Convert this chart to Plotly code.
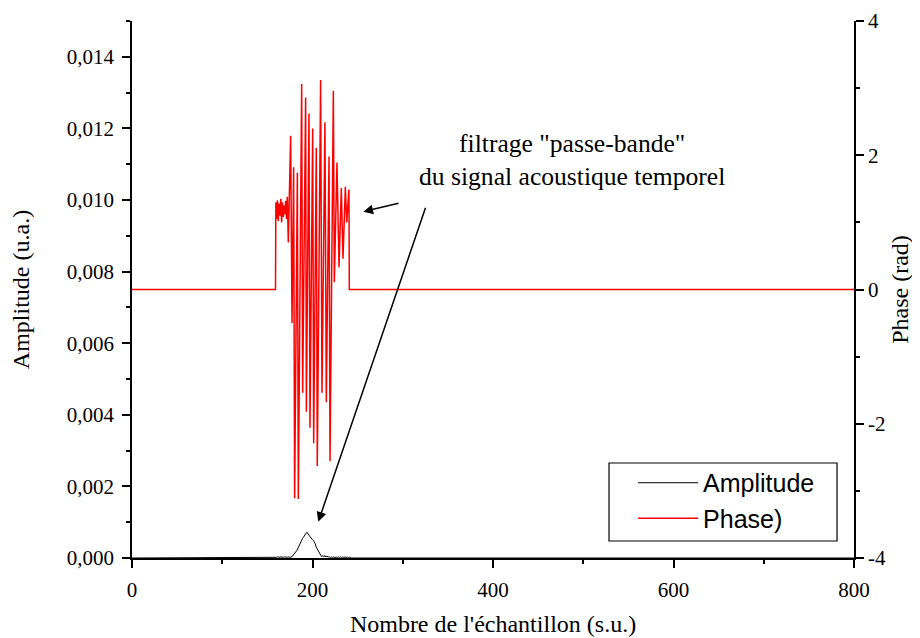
import numpy as np
import plotly.graph_objects as go

# ---------------- data ----------------
# Phase (rad): read points (sample index, value)
phase_x = [0, 159.0, 159.4, 160.3, 161.2, 162.1, 163.0, 164.0, 164.9, 165.8, 166.7,
           167.6, 168.5, 169.4, 170.3, 171.2, 172.1, 173.2,
           175.8, 177.3, 179.1, 180.2, 183.2, 184.3, 188.0, 189.1, 192.4, 193.2,
           196.1, 197.2, 200.2, 201.3, 204.2, 205.3, 209.0, 210.5, 213.8, 215.3,
           218.3, 219.4, 223.1, 224.2, 227.1, 229.4, 231.9, 233.8, 236.4, 237.9,
           240.4, 240.8, 800]
phase_y = [0, 0, 1.30, 1.05, 1.33, 1.02, 1.28, 1.10, 1.35, 1.00, 1.30,
           1.08, 1.25, 1.12, 1.32, 1.05, 1.38, 0.70,
           2.29, -0.50, 1.82, -3.11, 1.74, -3.12, 3.06, -1.54, 2.86, -1.82,
           2.62, -2.06, 2.40, -2.29, 2.11, -2.63, 3.12, -1.54, 2.49, -1.68,
           1.98, -2.56, 2.96, 0.11, 1.89, 0.33, 1.51, 0.46, 1.53, 1.00,
           1.49, 0.0, 0]

# Amplitude (u.a.): values for samples 160 .. 241, zero elsewhere (0..800)
amp_start = 160
amp_values = [
    0.00002, 0.00003, 0.00002, 0.00003, 0.00002, 0.00003, 0.00002, 0.00003,
    0.00002, 0.00003, 0.00002, 0.00003, 0.00002, 0.00003, 0.00002, 0.00003,
    0.00002,                                   # 160-176
    0.00003, 0.00006, 0.00009, 0.00013, 0.00016, 0.00018, 0.00022, 0.00028,
    0.00034, 0.00040, 0.00045, 0.00050, 0.00055, 0.00058, 0.00063, 0.00066,
    0.00070, 0.00071, 0.00069, 0.00064, 0.00060, 0.00056, 0.00054, 0.00051,
    0.00049, 0.00045, 0.00040, 0.00031, 0.00026, 0.00021, 0.00016, 0.00012,
    0.00007, 0.00004,                          # 177-210
    0.00006, 0.00004, 0.00007, 0.00003, 0.00006, 0.00003, 0.00005, 0.00002,
    0.00003, 0.00001, 0.00003, 0.00001, 0.00003, 0.00001, 0.00003, 0.00001,
    0.00003, 0.00001, 0.00003, 0.00001, 0.00003, 0.00001, 0.00003, 0.00001,
    0.00003, 0.00001, 0.00003, 0.00001, 0.00003, 0.00001, 0.00002,  # 211-241
]
n_samples = 801

x_tickvals = [0, 200, 400, 600, 800]
y_tickvals = [0, 0.002, 0.004, 0.006, 0.008, 0.010, 0.012, 0.014]
y_ticktext = ["0,000", "0,002", "0,004", "0,006", "0,008", "0,010", "0,012", "0,014"]
y2_tickvals = [-4, -2, 0, 2, 4]
y2_ticktext = ["-4", "-2", "0", "2", "4"]

# ---------------- build ----------------
amp_x = np.arange(n_samples)
amp_y = np.zeros(n_samples)
amp_y[amp_start:amp_start + len(amp_values)] = amp_values

SERIF = "Liberation Serif"
SANS = "Liberation Sans"

fig = go.Figure()
fig.add_trace(go.Scatter(x=amp_x, y=amp_y, mode="lines", name="Amplitude",
                         line=dict(color="black", width=1), yaxis="y"))
fig.add_trace(go.Scatter(x=phase_x, y=phase_y, mode="lines", name="Phase)",
                         line=dict(color="#ff0000", width=1.5), yaxis="y2"))

axis_common = dict(showline=True, linecolor="black", linewidth=1.5,
                   showgrid=False, zeroline=False, ticks="outside",
                   tickcolor="black", tickwidth=1.5, ticklen=8, automargin=False,
                   tickfont=dict(family=SERIF, size=21, color="black"))

fig.update_layout(
    width=912, height=630,
    margin=dict(l=124, r=66, t=13, b=80),
    paper_bgcolor="white", plot_bgcolor="white",
    showlegend=True,
    legend=dict(x=0.694, y=0.1825, xanchor="left", yanchor="top",
                borderwidth=0, bgcolor="rgba(0,0,0,0)",
                font=dict(family=SANS, size=25, color="black"),
                itemwidth=60, tracegroupgap=0),
    xaxis=dict(range=[0, 800], tickvals=x_tickvals, ticklabelstandoff=4,
               minor=dict(dtick=100, ticks="outside", ticklen=4, tickcolor="black", tickwidth=1.5),
               title=dict(text="Nombre de l'échantillon (s.u.)", standoff=14,
                          font=dict(family=SERIF, size=24, color="black")),
               **axis_common),
    xaxis2=dict(range=[0, 800], overlaying="x", side="top", anchor="y",
                showline=True, linecolor="black", linewidth=1.5,
                showgrid=False, zeroline=False,
                ticks="inside", ticklen=3, tickcolor="black", tickwidth=1.5,
                dtick=100, showticklabels=False, automargin=False),
    yaxis=dict(range=[0, 0.015], tickvals=y_tickvals, ticktext=y_ticktext,
               ticklabelstandoff=4,
               minor=dict(dtick=0.001, ticks="outside", ticklen=4, tickcolor="black", tickwidth=1.5),
               title=dict(text="Amplitude (u.a.)", standoff=32,
                          font=dict(family=SERIF, size=24, color="black")),
               **axis_common),
    yaxis2=dict(range=[-4, 4], overlaying="y", side="right", anchor="x",
                tickvals=y2_tickvals, ticktext=y2_ticktext,
                minor=dict(dtick=1, ticks="outside", ticklen=4, tickcolor="black", tickwidth=1.5),
                title=dict(text="Phase (rad)", standoff=6,
                           font=dict(family=SERIF, size=24, color="black")),
                **axis_common),
)

# legend frame
fig.add_shape(type="rect", xref="paper", yref="paper",
              x0=0.6607, x1=0.9765, y0=0.0317, y1=0.1769,
              line=dict(color="black", width=1.2), fillcolor="rgba(0,0,0,0)", layer="above")

# annotation text and arrows
fig.add_annotation(x=487, y=1.93, xref="x", yref="y2",
                   text='filtrage "passe-bande"<br>du signal acoustique temporel',
                   showarrow=False, align="center",
                   font=dict(family=SERIF, size=25.6, color="black"))
fig.add_annotation(x=256.3, y=1.16, xref="x", yref="y2",
                   ax=297, ay=1.29, axref="x", ayref="y2",
                   showarrow=True, arrowhead=2, arrowsize=1.3, arrowwidth=1.5,
                   arrowcolor="black", text="")
fig.add_annotation(x=206.4, y=-3.46, xref="x", yref="y2",
                   ax=325.8, ay=1.24, axref="x", ayref="y2",
                   showarrow=True, arrowhead=2, arrowsize=1.3, arrowwidth=1.5,
                   arrowcolor="black", text="")

fig.write_html("out.html")
